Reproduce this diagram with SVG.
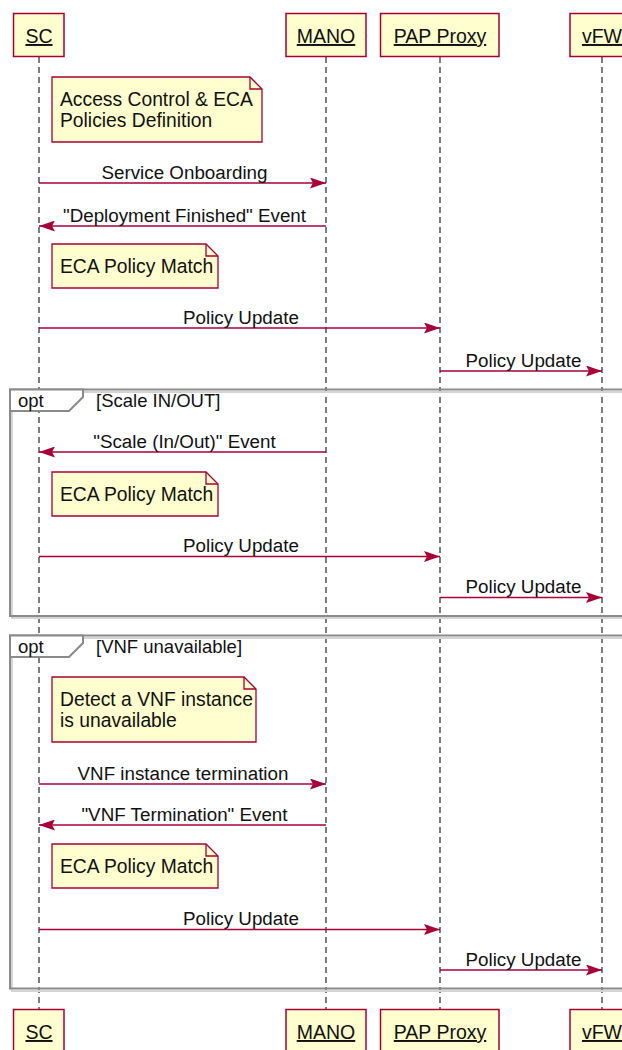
<svg xmlns="http://www.w3.org/2000/svg" width="622" height="1050" viewBox="0 0 622 1050">
  <defs>
    <style>
      text { font-family: "Liberation Sans", Arial, sans-serif; fill: #111111; }
      .lifeline { stroke: #383838; stroke-width: 1.3; stroke-dasharray: 6,4; fill: none; }
      .part rect { fill: #FEFECE; stroke: #A80036; stroke-width: 1.5; }
      .part text { font-size: 19.5px; text-anchor: middle; text-decoration: underline; }
      .note path.body { fill: #FEFECE; stroke: #A80036; stroke-width: 1.3; }
      .note path.fold { fill: none; stroke: #A80036; stroke-width: 1.3; }
      .note text { font-size: 19.3px; }
      .msg line { stroke: #A80036; stroke-width: 1.4; marker-end: url(#head); }
      .msg text { font-size: 18.8px; text-anchor: middle; }
      .frame rect.shadow { fill: none; stroke: #D4D4D4; stroke-width: 2; }
      .frame rect.box { fill: none; stroke: #8A8A8A; stroke-width: 2; }
      .frame path.tab { fill: #FFFFFF; stroke: #8A8A8A; stroke-width: 2; }
      .frame text { font-size: 18.5px; }
    </style>
    <marker id="head" viewBox="0 0 16 11" refX="16" refY="5.5" markerWidth="16" markerHeight="11" markerUnits="userSpaceOnUse" orient="auto">
      <path d="M0,0 L16,5.5 L0,11 L3,5.5 Z" fill="#A80036"/>
    </marker>
  </defs>

  <rect x="0" y="0" width="622" height="1050" fill="#FFFFFF"/>

  <!-- lifelines -->
  <g id="lifelines">
    <line class="lifeline" x1="39" y1="57" x2="39" y2="1009"/>
    <line class="lifeline" x1="326" y1="57" x2="326" y2="1009"/>
    <line class="lifeline" x1="440" y1="57" x2="440" y2="1009"/>
    <line class="lifeline" x1="602" y1="57" x2="602" y2="1009"/>
  </g>

  <!-- opt fragments -->
  <g id="opt-scale" class="frame">
    <rect class="shadow" x="12" y="392" width="640" height="226"/>
    <rect class="box" x="10" y="389.5" width="640" height="226.5"/>
    <path class="tab" d="M10,389.5 H83 V397 L69,411 H10 Z"/>
    <text x="18" y="406.5">opt</text>
    <text x="96" y="406.5">[Scale IN/OUT]</text>
  </g>
  <g id="opt-vnf" class="frame">
    <rect class="shadow" x="12" y="638" width="640" height="353"/>
    <rect class="box" x="10" y="635.5" width="640" height="353"/>
    <path class="tab" d="M10,635.5 H83 V643 L69,657 H10 Z"/>
    <text x="18" y="652.5">opt</text>
    <text x="96" y="652.5">[VNF unavailable]</text>
  </g>

  <!-- participants -->
  <g id="sc-top" class="part"><rect x="13.5" y="13.5" width="50.5" height="43"/><text x="39" y="43">SC</text></g>
  <g id="mano-top" class="part"><rect x="286" y="13.5" width="80" height="43"/><text x="326" y="43">MANO</text></g>
  <g id="pap-top" class="part"><rect x="380.5" y="13.5" width="118.5" height="43"/><text x="440" y="43">PAP Proxy</text></g>
  <g id="vfw-top" class="part"><rect x="570" y="13.5" width="64" height="43"/><text x="602" y="43">vFW</text></g>

  <g id="sc-bottom" class="part"><rect x="13.5" y="1009.5" width="50.5" height="43"/><text x="39" y="1039">SC</text></g>
  <g id="mano-bottom" class="part"><rect x="286" y="1009.5" width="80" height="43"/><text x="326" y="1039">MANO</text></g>
  <g id="pap-bottom" class="part"><rect x="380.5" y="1009.5" width="118.5" height="43"/><text x="440" y="1039">PAP Proxy</text></g>
  <g id="vfw-bottom" class="part"><rect x="570" y="1009.5" width="64" height="43"/><text x="602" y="1039">vFW</text></g>

  <!-- notes -->
  <g id="note-policies" class="note">
    <path class="body" d="M52,77 H250 L262,89 V142 H52 Z"/>
    <path class="fold" d="M250,77 V89 H262"/>
    <text x="60" y="106">Access Control &amp; ECA</text>
    <text x="60" y="127">Policies Definition</text>
  </g>
  <g id="note-match-1" class="note">
    <path class="body" d="M52,244 H206 L218,256 V288 H52 Z"/>
    <path class="fold" d="M206,244 V256 H218"/>
    <text x="60" y="273">ECA Policy Match</text>
  </g>
  <g id="note-match-2" class="note">
    <path class="body" d="M52,472 H206 L218,484 V516 H52 Z"/>
    <path class="fold" d="M206,472 V484 H218"/>
    <text x="60" y="501">ECA Policy Match</text>
  </g>
  <g id="note-detect" class="note">
    <path class="body" d="M52,677 H244 L256,689 V742 H52 Z"/>
    <path class="fold" d="M244,677 V689 H256"/>
    <text x="60" y="706">Detect a VNF instance</text>
    <text x="60" y="727">is unavailable</text>
  </g>
  <g id="note-match-3" class="note">
    <path class="body" d="M52,844 H206 L218,856 V888 H52 Z"/>
    <path class="fold" d="M206,844 V856 H218"/>
    <text x="60" y="873">ECA Policy Match</text>
  </g>

  <!-- messages -->
  <g id="messages" class="msg">
    <line x1="39" y1="183" x2="326" y2="183"/>
    <text x="184.5" y="178.5">Service Onboarding</text>

    <line x1="326" y1="226" x2="39" y2="226"/>
    <text x="184.5" y="221.5">"Deployment Finished" Event</text>

    <line x1="39" y1="328" x2="440" y2="328"/>
    <text x="241" y="323.5">Policy Update</text>

    <line x1="440" y1="371" x2="602" y2="371"/>
    <text x="523.5" y="366.5">Policy Update</text>

    <line x1="326" y1="452" x2="39" y2="452"/>
    <text x="184.5" y="447.5">"Scale (In/Out)" Event</text>

    <line x1="39" y1="556.5" x2="440" y2="556.5"/>
    <text x="241" y="552">Policy Update</text>

    <line x1="440" y1="597.5" x2="602" y2="597.5"/>
    <text x="523.5" y="593">Policy Update</text>

    <line x1="39" y1="784" x2="326" y2="784"/>
    <text x="183" y="779.5">VNF instance termination</text>

    <line x1="326" y1="825" x2="39" y2="825"/>
    <text x="184.5" y="820.5">"VNF Termination" Event</text>

    <line x1="39" y1="929.5" x2="440" y2="929.5"/>
    <text x="241" y="925">Policy Update</text>

    <line x1="440" y1="970" x2="602" y2="970"/>
    <text x="523.5" y="965.5">Policy Update</text>
  </g>
</svg>
